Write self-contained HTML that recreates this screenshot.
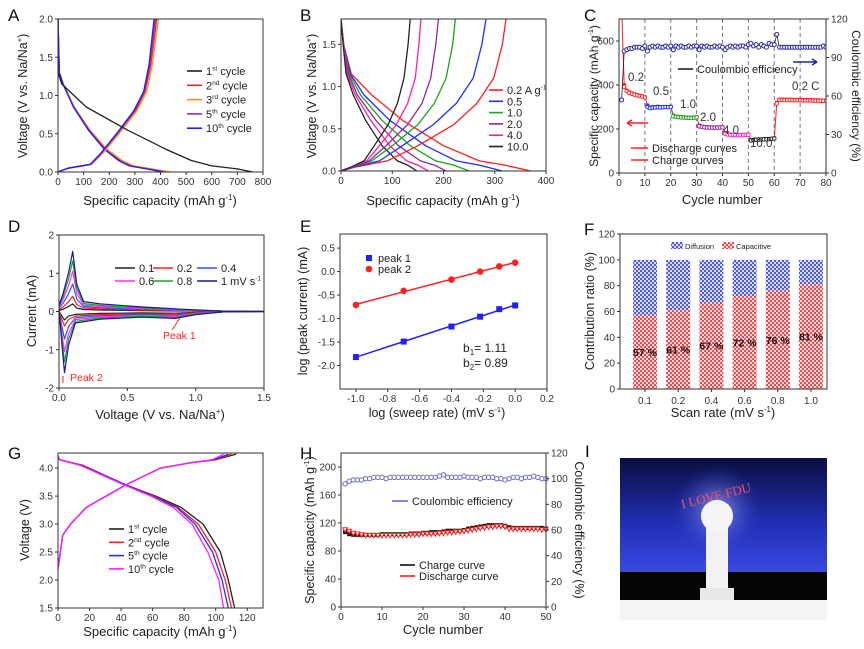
<!DOCTYPE html>
<html><head><meta charset="utf-8"><style>
html,body{margin:0;padding:0;background:#fff;}
svg{display:block;font-family:"Liberation Sans",Arial,sans-serif;}
</style></head><body>
<svg id="fig" width="864" height="649" viewBox="0 0 864 649" xmlns="http://www.w3.org/2000/svg">
<defs>
<pattern id="pRed" width="4" height="4" patternUnits="userSpaceOnUse"><rect width="4" height="4" fill="#f0484e"/><rect x="0" y="0" width="2" height="2" fill="#fdd"/><rect x="2" y="2" width="2" height="2" fill="#fdd"/></pattern>
<pattern id="pBlue" width="4" height="4" patternUnits="userSpaceOnUse"><rect width="4" height="4" fill="#4a5af0"/><rect x="0" y="0" width="2" height="2" fill="#dde"/><rect x="2" y="2" width="2" height="2" fill="#dde"/></pattern>
<radialGradient id="glow" cx="50%" cy="50%" r="50%"><stop offset="0" stop-color="#b8c4ff" stop-opacity="0.7"/><stop offset="1" stop-color="#3a48d8" stop-opacity="0"/></radialGradient>
<linearGradient id="sky" x1="0" y1="0" x2="0" y2="1"><stop offset="0" stop-color="#0a0e40"/><stop offset="0.6" stop-color="#2230b8"/><stop offset="1" stop-color="#3a4ae0"/></linearGradient>
</defs>
<g id="root"></g>
<!-- Photo panel I -->
<g>
<text x="585" y="457" font-size="17">I</text>
<rect x="620" y="458" width="207" height="114" fill="url(#sky)"/>
<rect x="620" y="572" width="207" height="28" fill="#050505"/>
<rect x="620" y="600" width="207" height="20" fill="#f4f4f4"/>
<circle cx="717" cy="510" r="45" fill="url(#glow)"/>
<text x="717" y="500" font-size="13" fill="#ff4a6a" text-anchor="middle" font-family="Liberation Serif,serif" transform="rotate(-14 717 500)">I LOVE FDU</text>
<rect x="706" y="520" width="22" height="72" rx="4" fill="#f2f2f2"/>
<circle cx="717" cy="516" r="16" fill="#f5f5f5"/>
<rect x="700" y="588" width="34" height="12" fill="#e8e8e8"/>
</g>
</svg>
<script>
// ================= DATA =================
// Panel A
const aDisV = [2.0,1.3,1.15,0.85,0.55,0.3,0.15,0.08,0.04,0];
const aDis1 = [0,0,15,110,270,420,520,600,700,760];
const aDis2 = [0,5,20,62,122,185,245,290,360,430];
const aDis3 = [0,5,21,64,125,190,250,296,368,440];
const aDis5 = [0,5,20,61,120,182,240,284,352,420];
const aDis10 = [0,5,19,60,118,180,236,278,345,410];
const aChV = [0,0.05,0.1,0.25,0.5,0.8,1.05,1.4,2.0];
const aCh2 = [0,40,130,172,232,302,340,362,385];
const aCh3 = [0,42,132,176,238,308,346,368,392];
const aCh5 = [0,40,128,170,230,298,336,358,380];
const aCh10 = [0,38,126,168,228,296,334,355,375];
// Panel B
const bRates = ["0.2 A g-1","0.5","1.0","2.0","4.0","10.0"];
const bDisV = [1.8,1.5,1.15,0.9,0.6,0.3,0.12,0.07,0];
const bDisCap = [[0,5,20,60,120,200,270,320,370],[0,5,18,45,95,165,225,270,315],[0,5,16,38,80,135,185,220,250],[0,5,14,32,68,112,155,182,205],[0,5,12,28,58,95,128,150,170],[0,4,10,24,48,80,110,130,148]];
const bChV = [0,0.05,0.12,0.3,0.55,0.8,1.1,1.5,1.8];
const bChCap = [[0,30,90,150,220,265,298,315,322],[0,28,75,120,180,225,258,275,283],[0,25,60,100,150,182,205,218,223],[0,25,55,88,130,158,175,185,190],[0,22,50,75,108,130,145,152,156],[0,20,45,65,92,110,123,131,135]];
// Panel C
const cCycles = Array.from({length:80},(_,i)=>i+1);
const cDischarge = [760,400,375,368,362,358,355,352,350,345, 308,298,300,300,302,300,300,301,300,302, 262,258,256,255,254,253,252,252,252,255, 216,212,210,209,208,208,208,207,208,208, 180,177,175,174,174,173,173,174,174,175, 150,152,152,153,153,154,154,155,156,158, 320,335,335,334,334,334,333,333,333,333,332,332,332,332,331,331,331,330,330,330];
const cCharge = [760,392,372,365,360,356,353,350,348,343, 300,295,297,298,299,298,299,300,299,300, 258,255,254,253,252,251,251,250,251,253, 212,210,208,207,207,206,206,206,207,207, 178,175,174,173,173,172,172,173,173,174, 148,150,151,152,152,153,153,154,155,157, 316,333,333,332,332,332,331,331,331,331,330,330,330,330,329,329,329,328,328,328];
const cCE = [57,95,96,97,97,98,98,98,97,99, 95,98,99,98,99,98,98,99,98,99, 96,99,98,99,98,98,99,98,99,99, 96,99,98,99,98,98,99,98,99,98, 96,98,99,98,99,98,99,99,98,100, 101,99,100,98,100,99,98,101,100,100, 108,98,98,98,98,98,98,98,98,98,98,98,98,98,98,98,98,98,99,98];
// Panel D
const dRates = ["0.1","0.2","0.4","0.6","0.8","1 mV s-1"];
const dAnodicPeak = [0.2,0.4,0.72,1.05,1.32,1.57];
const dCathodicPeak = [-0.22,-0.38,-0.72,-1.05,-1.32,-1.6];
const dAnodicBase = [0.04,0.07,0.1,0.13,0.16,0.2];
const dCathodicBase = [-0.05,-0.08,-0.11,-0.14,-0.17,-0.2];
// Panel E
const eLogRate = [-1.0,-0.7,-0.4,-0.22,-0.1,0.0];
const ePeak1 = [-1.82,-1.49,-1.17,-0.96,-0.8,-0.72];
const ePeak2 = [-0.71,-0.41,-0.17,0.0,0.11,0.19];
// Panel F
const fRates = ["0.1","0.2","0.4","0.6","0.8","1.0"];
const fCapacitive = [57,61,67,72,76,81];
// Panel G
const gDisV = [4.22,4.15,4.05,3.7,3.5,3.3,3.0,2.5,2.0,1.5];
const gDis = [[0,1,15,43,62,78,92,103,108,112],[0,1,16,43,61,76,89,100,106,110],[0,1,15,43,60,75,87,98,104,108],[0,1,14,42,59,73,85,95,102,105]];
const gChV = [2.2,2.8,3.0,3.3,3.7,4.0,4.1,4.15,4.25];
const gCh = [[0,3,8,18,43,65,85,100,113],[0,3,8,18,43,65,85,100,110],[0,3,8,18,43,65,85,99,108],[0,3,8,18,43,65,85,98,105]];
// Panel H
const hCycles = Array.from({length:50},(_,i)=>i+1);
const hCharge = [107,104,103,103,103,103,103,103,103,104,104,104,104,104,104,104,105,105,105,106,106,107,107,107,108,109,109,109,109,110,112,113,114,115,116,117,117,117,117,116,114,113,113,113,113,113,113,113,113,112];
const hDischarge = [110,108,105,104,103,102,102,102,102,102,102,102,102,102,102,102,103,103,103,104,104,104,104,105,105,106,106,107,107,108,109,110,111,112,113,114,114,115,115,114,111,111,111,111,111,111,111,111,110,110];
const hCE = [96,98,99,99,99,100,100,101,101,101,100,101,101,101,101,101,101,101,101,101,101,101,101,102,103,101,101,101,101,102,101,101,101,100,101,101,101,100,100,99,100,101,101,100,101,101,102,101,100,100];

// ================= HELPERS =================
const NS="http://www.w3.org/2000/svg";
const root=document.getElementById('root');
function mk(tag,attrs,parent){const e=document.createElementNS(NS,tag);for(const k in attrs)e.setAttribute(k,attrs[k]);(parent||root).appendChild(e);return e;}
function scaler(p){return {x:v=>p.x0+(v-p.xmin)/(p.xmax-p.xmin)*(p.x1-p.x0), y:v=>p.y1-(v-p.ymin)/(p.ymax-p.ymin)*(p.y1-p.y0)};}
function txt(x,y,s,size,parent,anchor,fill){const t=mk('text',{x:x,y:y,'font-size':size,'text-anchor':anchor||'start',fill:fill||'#222'},parent);t.textContent=s;return t;}
function supTxt(x,y,main,sup,rest,size,parent,anchor){const t=mk('text',{x:x,y:y,'font-size':size,'text-anchor':anchor||'start',fill:'#222'},parent);t.appendChild(document.createTextNode(main));const s=mk('tspan',{'font-size':size*0.6,dy:-size*0.4},t);s.textContent=sup;const r=mk('tspan',{dy:size*0.4},t);r.textContent=rest;return t;}
function frame(p,g){const r=mk('rect',{x:p.x0,y:p.y0,width:p.x1-p.x0,height:p.y1-p.y0,fill:'none',stroke:'#333','stroke-width':1},g);}
function xTicks(p,g,vals,labels){const s=scaler(p);vals.forEach((v,i)=>{const X=s.x(v);const l=mk('line',{x1:X,x2:X,y1:p.y1,y2:p.y1+3,stroke:'#333'},g);const t=txt(X,p.y1+13,labels[i],10,g,'middle','#333');});}
function yTicks(p,g,vals,labels,right,rmin,rmax){const s=scaler(p);vals.forEach((v,i)=>{let Y;if(right){Y=p.y1-(v-rmin)/(rmax-rmin)*(p.y1-p.y0);}else Y=s.y(v);const X=right?p.x1:p.x0;const l=mk('line',{x1:X,x2:right?X+3:X-3,y1:Y,y2:Y,stroke:'#333'},g);const t=txt(right?X+5:X-5,Y+3.5,labels[i],10,g,right?'start':'end','#333');});}
function poly(p,g,xs,ys,color,w,name){const s=scaler(p);const pts=xs.map((x,i)=>s.x(x).toFixed(1)+','+s.y(ys[i]).toFixed(1)).join(' ');const e=mk('polyline',{points:pts,fill:'none',stroke:color,'stroke-width':w||1.3,'stroke-linejoin':'round'},g);return e;}
function group(name){const g=mk('g',{});return g;}
function clip(id,p){const c=mk('clipPath',{id:id});mk('rect',{x:p.x0,y:p.y0,width:p.x1-p.x0,height:p.y1-p.y0},c);}
function rotTitle(x,y,s,g,name){const t=txt(x,y,s,12.5,g,'middle','#222');t.setAttribute('transform','rotate(-90 '+x+' '+y+')');return t;}
function letter(x,y,s,g){const t=txt(x,y,s,17,g,'start','#111');}
function legLine(g,x1,x2,y,color,label,sup,name){const l=mk('line',{x1:x1,x2:x2,y1:y,y2:y,stroke:color,'stroke-width':1.6},g);const t=sup?supTxt(x2+4,y+4,label,sup[0],sup[1],11,g):txt(x2+4,y+4,label,11,g);}

// ================= PANEL A =================
(function(){
const p={x0:58,x1:263,y0:19,y1:172,xmin:0,xmax:800,ymin:0,ymax:2.0};
const g=group('panel-a');letter(8,21,'A',g);
clip('clipA',p);const gp=mk('g',{'clip-path':'url(#clipA)'},g);
const cols=['#ff2020','#ff9020','#9030b0','#2020ff'];
[aDis2,aDis3,aDis5,aDis10].forEach((d,i)=>poly(p,gp,d,aDisV,cols[i],1.3,'discharge-curve'));
[aCh2,aCh3,aCh5,aCh10].forEach((d,i)=>poly(p,gp,d,aChV,cols[i],1.3,'charge-curve'));
poly(p,gp,aDis1,aDisV,'#222',1.3,'first-cycle-discharge');
frame(p,g);
xTicks(p,g,[0,100,200,300,400,500,600,700,800],['0','100','200','300','400','500','600','700','800']);
yTicks(p,g,[0,0.5,1,1.5,2],['0.0','0.5','1.0','1.5','2.0']);
const xt=supTxt(160,205,'Specific capacity (mAh g','-1',')',13,g,'middle');
const yt=supTxt(0,0,'Voltage (V vs. Na/Na','+',')',12.5,g,'middle');yt.setAttribute('transform','translate(27 96) rotate(-90)');
const lab=[['1','st'],['2','nd'],['3','rd'],['5','th'],['10','th']];const lc=['#222','#ff2020','#ff9020','#9030b0','#2020ff'];
lab.forEach((l,i)=>legLine(g,187,202,71+i*14.3,lc[i],l[0],[l[1],' cycle'],'legend-entry'));
})();

// ================= PANEL B =================
(function(){
const p={x0:341,x1:546,y0:19,y1:171,xmin:0,xmax:400,ymin:0,ymax:1.8};
const g=group('panel-b');letter(300,21,'B',g);
clip('clipB',p);const gp=mk('g',{'clip-path':'url(#clipB)'},g);
const cols=['#ff2020','#2030ff','#20a020','#8a2aa0','#ff20a0','#222'];
bDisCap.forEach((d,i)=>poly(p,gp,d,bDisV,cols[i],1.3,'discharge-curve'));
bChCap.forEach((d,i)=>poly(p,gp,d,bChV,cols[i],1.3,'charge-curve'));
frame(p,g);
xTicks(p,g,[0,100,200,300,400],['0','100','200','300','400']);
yTicks(p,g,[0,0.5,1,1.5],['0.0','0.5','1.0','1.5']);
const xt=supTxt(443,205,'Specific capacity (mAh g','-1',')',13,g,'middle');
const yt=supTxt(0,0,'Voltage (V vs. Na/Na','+',')',12.5,g,'middle');yt.setAttribute('transform','translate(316 96) rotate(-90)');
bRates.forEach((r,i)=>{const y=90+i*11.3;if(i===0)legLine(g,489,503,y,cols[i],'0.2 A g',['-1',''],'legend-entry');else legLine(g,489,503,y,cols[i],r,null,'legend-entry');});
})();

// ================= PANEL C =================
(function(){
const p={x0:619,x1:826,y0:19,y1:173,xmin:0,xmax:80,ymin:0,ymax:700};
const s=scaler(p);const yr=v=>p.y1-v/120*(p.y1-p.y0);
const g=group('panel-c');letter(584,21,'C',g);
for(let c=10;c<=70;c+=10){const l=mk('line',{x1:s.x(c),x2:s.x(c),y1:p.y0,y2:p.y1,stroke:'#777','stroke-dasharray':'4,3'},g);}
clip('clipC',p);const gp=mk('g',{'clip-path':'url(#clipC)'},g);
const segCols=['#ff2020','#2030ff','#20a020','#a020a0','#ff20c0','#222','#ff2020'];
const segOf=c=>c<=10?0:c<=20?1:c<=30?2:c<=40?3:c<=50?4:c<=60?5:6;
poly(p,gp,cCycles,cDischarge,'#ff2020',1,'discharge-line');
cCycles.forEach((c,i)=>{const col=segCols[segOf(c)];const r=mk('rect',{x:s.x(c)-1.8,y:s.y(cDischarge[i])-1.8,width:3.6,height:3.6,fill:col},gp);
const o=mk('circle',{cx:s.x(c),cy:s.y(cCharge[i]),r:1.8,fill:'#fff',stroke:col,'stroke-width':1},gp);});
const cePts=cCycles.map((c,i)=>s.x(c).toFixed(1)+','+yr(cCE[i]).toFixed(1)).join(' ');
const cl=mk('polyline',{points:cePts,fill:'none',stroke:'#223',"stroke-width":0.8},gp);
cCycles.forEach((c,i)=>{const o=mk('circle',{cx:s.x(c),cy:yr(cCE[i]),r:2,fill:'#fff',stroke:'#2a2aa0','stroke-width':1},gp);});
frame(p,g);
xTicks(p,g,[0,10,20,30,40,50,60,70,80],['0','10','20','30','40','50','60','70','80']);
yTicks(p,g,[0,200,400,600],['0','200','400','600']);
yTicks(p,g,[0,30,60,90,120],['0','30','60','90','120'],true,0,120);
const xt=txt(722,204,'Cycle number',13,g,'middle');
const yt=supTxt(0,0,'Specific capacity (mAh g','-1',')',12,g,'middle');yt.setAttribute('transform','translate(598 96) rotate(-90)');
const yt2=txt(0,0,'Coulombic efficiency (%)',12,g,'middle');yt2.setAttribute('transform','translate(852 96) rotate(90)');
[['0.2',628,81],['0.5',653,95],['1.0',680,108],['2.0',700,121],['4.0',723,134],['10.0',750,147],['0.2 C',792,90]].forEach(a=>{const t=txt(a[1],a[2],a[0],11.5,g,'start','#333');});
legLine(g,678,693,69,'#223','Coulombic efficiency',null,'legend-ce');
legLine(g,631,648,148,'#ff2020','Discharge curves',null,'legend-discharge');
legLine(g,631,648,160,'#ff2020','Charge curves',null,'legend-charge');
const a1=mk('path',{d:'M648 123 L627 123 M627 123 l5 -3 M627 123 l5 3',stroke:'#ff2020','stroke-width':1.5,fill:'none'},g);
const a2=mk('path',{d:'M793 62 L817 62 M817 62 l-5 -3 M817 62 l-5 3',stroke:'#1a2aa0','stroke-width':1.5,fill:'none'},g);
})();

// ================= PANEL D =================
(function(){
const p={x0:59,x1:264,y0:235,y1:388,xmin:0,xmax:1.5,ymin:-2,ymax:2};
const g=group('panel-d');letter(8,232,'D',g);
clip('clipD',p);const gp=mk('g',{'clip-path':'url(#clipD)'},g);
const cols=['#222','#ff2020','#3050ff','#ff30ff','#20a030','#1a1a90'];
dRates.forEach((r,i)=>{
 const ap=dAnodicPeak[i],cp=dCathodicPeak[i],ab=dAnodicBase[i],cb=dCathodicBase[i];
 const xs=[0.0,0.03,0.07,0.1,0.13,0.18,0.3,0.6,0.9,1.2,1.5, 1.5,1.2,1.0,0.85,0.6,0.3,0.12,0.07,0.04,0.02,0.0];
 const ys=[ap*0.1,ap*0.3,ap*0.65,ap,ap*0.45,ab*1.3,ab,ab*0.6,ab*0.3,0.01,0, 0,-0.01,cb*0.4,cb*0.9,cb*0.75,cb,cb*1.5,cp*0.55,cp,cp*0.5,ap*0.05];
 poly(p,gp,xs,ys,cols[i],1.2,'cv-curve');
});
frame(p,g);
xTicks(p,g,[0,0.5,1,1.5],['0.0','0.5','1.0','1.5']);
yTicks(p,g,[-2,-1,0,1,2],['-2','-1','0','1','2']);
const xt=supTxt(160,419,'Voltage (V vs. Na/Na','+',')',13,g,'middle');
rotTitle(36,311,'Current (mA)',g,'y-axis-title');
dRates.forEach((r,i)=>{const col=i%3,row=Math.floor(i/3);const x1=[115,153,197][col];const y=[268,281][row];if(i===5)legLine(g,x1,x1+20,y,cols[i],'1 mV s',['-1',''],'legend-entry');else legLine(g,x1,x1+20,y,cols[i],r,null,'legend-entry');});
const t1=txt(163,339,'Peak 1',10.5,g,'start','#ff2020');
const t2=txt(70,381,'Peak 2',10.5,g,'start','#ff2020');
const ar=mk('path',{d:'M172 330 L180 318 M63 376 L63 383',stroke:'#ff2020','stroke-width':1},g);
})();

// ================= PANEL E =================
(function(){
const p={x0:340,x1:547,y0:234,y1:389,xmin:-1.1,xmax:0.2,ymin:-2.5,ymax:0.8};
const s=scaler(p);
const g=group('panel-e');letter(300,232,'E',g);
function fit(xs,ys){const n=xs.length,mx=xs.reduce((a,b)=>a+b)/n,my=ys.reduce((a,b)=>a+b)/n;let sxy=0,sxx=0;xs.forEach((x,i)=>{sxy+=(x-mx)*(ys[i]-my);sxx+=(x-mx)*(x-mx);});const b=sxy/sxx;return [b,my-b*mx];}
[[ePeak1,'#2020ff','peak-1'],[ePeak2,'#ff2020','peak-2']].forEach(d=>{const f=fit(eLogRate,d[0]);const x0=eLogRate[0],x1=eLogRate[eLogRate.length-1];
 poly(p,g,[x0,x1],[f[1]+f[0]*x0,f[1]+f[0]*x1],d[1],1.5,d[2]+'-fit-line');
 eLogRate.forEach((x,i)=>{if(d[2]==='peak-1'){const r=mk('rect',{x:s.x(x)-3,y:s.y(d[0][i])-3,width:6,height:6,fill:d[1]},g);}else{const c=mk('circle',{cx:s.x(x),cy:s.y(d[0][i]),r:3.3,fill:d[1]},g);}});});
frame(p,g);
xTicks(p,g,[-1,-0.8,-0.6,-0.4,-0.2,0,0.2],['-1.0','-0.8','-0.6','-0.4','-0.2','0.0','0.2']);
yTicks(p,g,[-2,-1.5,-1,-0.5,0,0.5],['-2.0','-1.5','-1.0','-0.5','0.0','0.5']);
const xt=supTxt(437,417,'log (sweep rate) (mV s','-1',')',12.5,g,'middle');
rotTitle(307,311,'log (peak current) (mA)',g,'y-axis-title');
const s1=mk('rect',{x:366,y:255,width:6,height:6,fill:'#2020ff'},g);
const l1=txt(378,262,'peak 1',11,g);
const s2=mk('circle',{cx:369,cy:269,r:3.3,fill:'#ff2020'},g);
const l2=txt(378,273,'peak 2',11,g);
const b1=mk('text',{x:463,y:352,'font-size':12,fill:'#222'},g);b1.innerHTML='b<tspan font-size="8" dy="3">1</tspan><tspan dy="-3">= 1.11</tspan>';
const b2=mk('text',{x:463,y:367,'font-size':12,fill:'#222'},g);b2.innerHTML='b<tspan font-size="8" dy="3">2</tspan><tspan dy="-3">= 0.89</tspan>';
})();

// ================= PANEL F =================
(function(){
const p={x0:620,x1:827,y0:234,y1:389,xmin:0,xmax:6.2,ymin:0,ymax:120};
const s=scaler(p);
const g=group('panel-f');letter(584,235,'F',g);
fRates.forEach((r,i)=>{const cx=645+i*33.2;const bw=24;
 const rr=mk('rect',{x:cx-bw/2,y:s.y(fCapacitive[i]),width:bw,height:s.y(0)-s.y(fCapacitive[i]),fill:'url(#pRed)'},g);
 const rb=mk('rect',{x:cx-bw/2,y:s.y(100),width:bw,height:s.y(fCapacitive[i])-s.y(100),fill:'url(#pBlue)'},g);
 const lt=txt(cx,s.y(fCapacitive[i]/2)+4,fCapacitive[i]+' %',10.5,g,'middle','#111');lt.setAttribute('font-weight','bold');
 const tk=mk('line',{x1:cx,x2:cx,y1:p.y1,y2:p.y1+3,stroke:'#333'},g);
 const tl=txt(cx,p.y1+15,r,10,g,'middle','#333');});
frame(p,g);
yTicks(p,g,[0,20,40,60,80,100,120],['0','20','40','60','80','100','120']);
const xt=supTxt(723,417,'Scan rate (mV s','-1',')',13,g,'middle');
rotTitle(594,311,'Contribution ratio (%)',g,'y-axis-title');
const lb=mk('rect',{x:671,y:242,width:12,height:7,fill:'url(#pBlue)'},g);
const lbt=txt(685,249,'Diffusion',7.5,g);
const lr=mk('rect',{x:722,y:242,width:12,height:7,fill:'url(#pRed)'},g);
const lrt=txt(736,249,'Capacitive',7.5,g);
})();

// ================= PANEL G =================
(function(){
const p={x0:58,x1:263,y0:453,y1:608,xmin:0,xmax:130,ymin:1.5,ymax:4.27};
const g=group('panel-g');letter(8,459,'G',g);
clip('clipG',p);const gp=mk('g',{'clip-path':'url(#clipG)'},g);
const cols=['#222','#ff2020','#2030ff','#ff20ff'];
gDis.forEach((d,i)=>poly(p,gp,d,gDisV,cols[i],1.3,'discharge-curve'));
gCh.forEach((d,i)=>poly(p,gp,d,gChV,cols[i],1.3,'charge-curve'));
frame(p,g);
xTicks(p,g,[0,20,40,60,80,100,120],['0','20','40','60','80','100','120']);
yTicks(p,g,[1.5,2,2.5,3,3.5,4],['1.5','2.0','2.5','3.0','3.5','4.0']);
const xt=supTxt(160,636,'Specific capacity (mAh g','-1',')',13,g,'middle');
rotTitle(29,530,'Voltage (V)',g,'y-axis-title');
const lab=[['1','st'],['2','nd'],['5','th'],['10','th']];
lab.forEach((l,i)=>legLine(g,109,124,529+i*13.3,cols[i],l[0],[l[1],' cycle'],'legend-entry'));
})();

// ================= PANEL H =================
(function(){
const p={x0:341,x1:546,y0:453,y1:607,xmin:0,xmax:50,ymin:0,ymax:220};
const s=scaler(p);const yr=v=>p.y1-v/120*(p.y1-p.y0);
const g=group('panel-h');letter(300,459,'H',g);
poly(p,g,hCycles,hCharge,'#111',1,'charge-line');
poly(p,g,hCycles,hDischarge,'#ff2020',1,'discharge-line');
hCycles.forEach((c,i)=>{const r=mk('rect',{x:s.x(c)-2,y:s.y(hCharge[i])-2,width:4,height:4,fill:'#111'},g);
 const d=mk('path',{d:'M'+(s.x(c)-2.2)+' '+(s.y(hDischarge[i])-2.2)+' h4.4 l-2.2 4.4 z',fill:'#fff',stroke:'#ff2020','stroke-width':1},g);
 const o=mk('circle',{cx:s.x(c),cy:yr(hCE[i]),r:2.2,fill:'#fff',stroke:'#6a6ad0','stroke-width':1},g);});
frame(p,g);
xTicks(p,g,[0,10,20,30,40,50],['0','10','20','30','40','50']);
yTicks(p,g,[0,40,80,120,160,200],['0','40','80','120','160','200']);
yTicks(p,g,[0,20,40,60,80,100,120],['0','20','40','60','80','100','120'],true,0,120);
const xt=txt(443,634,'Cycle number',13,g,'middle');
const yt=supTxt(0,0,'Specific capacity (mAh g','-1',')',12.5,g,'middle');yt.setAttribute('transform','translate(314 530) rotate(-90)');
const yt2=txt(0,0,'Coulombic efficiency (%)',12.5,g,'middle');yt2.setAttribute('transform','translate(575 530) rotate(90)');
legLine(g,392,408,501,'#6a6ad0','Coulombic efficiency',null,'legend-ce');
legLine(g,400,415,565,'#111','Charge curve',null,'legend-charge');
legLine(g,400,415,576,'#ff2020','Discharge curve',null,'legend-discharge');
})();
</script>
</body></html>
